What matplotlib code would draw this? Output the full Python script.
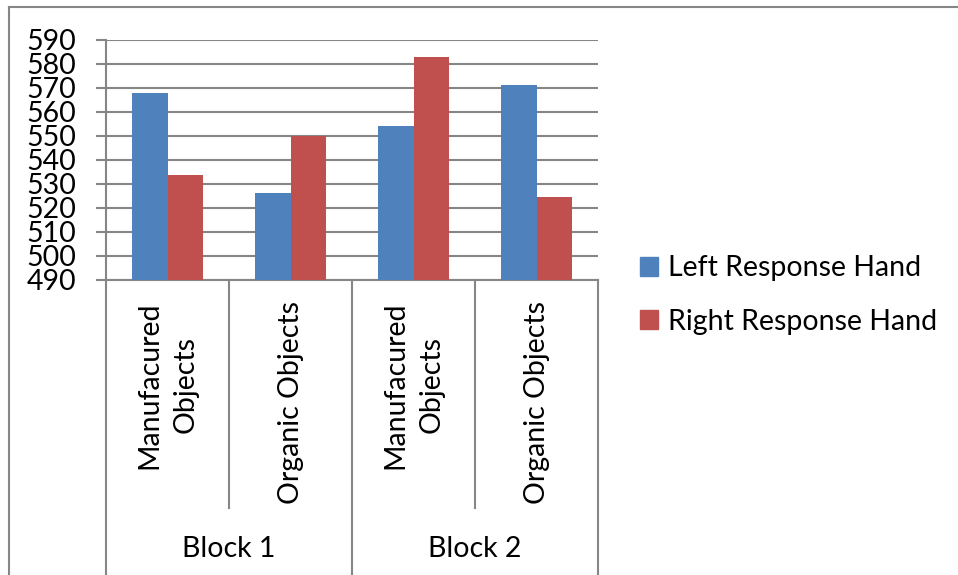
import matplotlib
matplotlib.use("Agg")
import matplotlib.pyplot as plt
import matplotlib.transforms as mtransforms
from matplotlib.patches import Patch
from matplotlib.lines import Line2D

plt.rcParams['font.family'] = ['Lato', 'DejaVu Sans']

categories = ["Manufacured\nObjects", "Organic Objects", "Manufacured\nObjects", "Organic Objects"]
blocks = ["Block 1", "Block 2"]
left_hand = [568.0, 526.1, 554.2, 571.4]
right_hand = [533.6, 550.0, 583.1, 524.7]
series_names = ["Left Response Hand", "Right Response Hand"]
yticks = list(range(490, 600, 10))

BLUE = "#4F81BD"
RED = "#C0504D"
GRID = "#868686"
FS = 20.5

W, H = 958, 575
fig = plt.figure(figsize=(W / 100, H / 100), dpi=100)

def fx(px):
    return px / W

def fy(py):
    return 1 - py / H

ax = fig.add_axes([fx(106), fy(280), fx(598) - fx(106), fy(40) - fy(280)])

n = len(categories)
x = list(range(n))
bw = 0.285
ax.bar([i - bw / 2 for i in x], [v - 490 for v in left_hand], bw, bottom=490,
       color=BLUE, zorder=3, label=series_names[0])
ax.bar([i + bw / 2 for i in x], [v - 490 for v in right_hand], bw, bottom=490,
       color=RED, zorder=3, label=series_names[1])

ax.set_xlim(-0.5, n - 0.5)
ax.set_ylim(490, 590)
ax.set_yticks(yticks)
ax.set_yticklabels([str(t) for t in yticks], fontsize=FS)
ax.tick_params(axis='y', length=7.5, width=1.5, color=GRID, pad=14)
ax.set_xticks([])
for t in yticks:
    ax.axhline(t, color=GRID, lw=1.5, zorder=1)
for s in ['top', 'right']:
    ax.spines[s].set_visible(False)
ax.spines['left'].set_color(GRID)
ax.spines['left'].set_linewidth(1.5)
ax.spines['bottom'].set_color(GRID)
ax.spines['bottom'].set_linewidth(1.5)

trans = mtransforms.blended_transform_factory(ax.transData, ax.transAxes)
# category separators
for i in range(n + 1):
    xb = i - 0.5
    if i % 2 == 0:
        y0 = -1.3
    else:
        y0 = (280 - 508) / 240
    ax.add_line(Line2D([xb, xb], [0, y0], transform=trans, color=GRID, lw=1.5, clip_on=False))

for i, c in enumerate(categories):
    ax.text(i, (280 - 301) / 240, c, transform=trans, rotation=90, ha='center', va='top',
            multialignment='center', fontsize=FS, linespacing=1.45)
for j, b in enumerate(blocks):
    ax.text(2 * j + 0.5, (280 - 549) / 240, b, transform=trans, ha='center', va='center',
            fontsize=FS)

# outer frame
fig.add_artist(Line2D([fx(9), fx(9)], [fy(7), 0], transform=fig.transFigure, color=GRID, lw=1.5))
fig.add_artist(Line2D([fx(9), 1], [fy(7), fy(7)], transform=fig.transFigure, color=GRID, lw=1.5))

handles = [Patch(color=BLUE), Patch(color=RED)]
fig.legend(handles, series_names, loc='center left', bbox_to_anchor=(fx(614), fy(295)),
           frameon=False, fontsize=FS, handlelength=0.65, handleheight=0.65,
           handletextpad=0.35, labelspacing=0.95)

fig.savefig("out.png", dpi=100)
